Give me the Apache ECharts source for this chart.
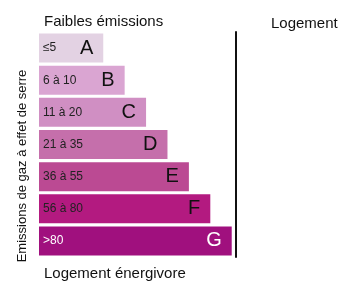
<!DOCTYPE html>
<html>
<head>
<meta charset="utf-8">
<script src="https://cdn.jsdelivr.net/npm/echarts@6/dist/echarts.min.js"></script>
<style>
  html, body { margin: 0; padding: 0; background: #fff; }
  #chart { width: 339px; height: 285px; }
</style>
</head>
<body>
<div id="chart"></div>
<script>
// classes of the label, top to bottom
var classes = ['A', 'B', 'C', 'D', 'E', 'F', 'G']
var ranges = ['≤5', '6 à 10', '11 à 20', '21 à 35', '36 à 55', '56 à 80', '>80']
// bar length in steps
var lengths = [3, 4, 5, 6, 7, 8, 9]
var colors = ['#e3d2e3', '#daa5d2', '#d08fc3', '#c56fab', '#bb4a93', '#b31a80', '#a0107e']

var font = '"Liberation Sans", Arial, sans-serif'

var chart = echarts.init(document.getElementById('chart'))
var option = {
  animation: false,
  grid: { left: 39, top: 32, width: 197, height: 225 },
  title: [
    { text: 'Faibles émissions', left: 39, top: 9, textStyle: { fontFamily: font, fontSize: 15, fontWeight: 'normal', color: '#111' } },
    { text: 'Logement', left: 266, top: 11, textStyle: { fontFamily: font, fontSize: 15, fontWeight: 'normal', color: '#111' } },
    { text: 'Logement énergivore', left: 39, top: 261, textStyle: { fontFamily: font, fontSize: 15, fontWeight: 'normal', color: '#111' } }
  ],
  graphic: [{
    type: 'text',
    x: 22,
    y: 166,
    rotation: Math.PI / 2,
    style: {
      text: 'Emissions de gaz à effet de serre',
      font: '13px ' + font,
      fill: '#111',
      align: 'center',
      verticalAlign: 'middle'
    }
  }],
  xAxis: { type: 'value', min: 0, max: 9.2, show: false },
  yAxis: [{
    type: 'category',
    data: classes,
    inverse: true,
    axisLine: { show: false },
    axisTick: { show: false },
    axisLabel: { show: false }
  }, {
    type: 'category',
    data: classes,
    position: 'right',
    axisLine: { show: true, lineStyle: { color: '#111', width: 2 } },
    axisTick: { show: false },
    axisLabel: { show: false }
  }],
  series: [{
    type: 'bar',
    barWidth: 29,
    data: lengths.map(function (v, i) {
      return {
        value: v,
        itemStyle: { color: colors[i] },
        label: { color: i === 6 ? '#fff' : '#222' }
      }
    }),
    label: {
      show: true,
      position: 'insideLeft',
      distance: 4,
      fontFamily: font,
      fontSize: 12,
      formatter: function (p) { return ranges[p.dataIndex] }
    }
  }, {
    type: 'bar',
    barWidth: 29,
    barGap: '-100%',
    silent: true,
    itemStyle: { color: 'transparent' },
    data: lengths.map(function (v, i) {
      return { value: v, label: { color: i === 6 ? '#fff' : '#111' } }
    }),
    label: {
      show: true,
      position: 'insideRight',
      distance: 10,
      fontFamily: font,
      fontSize: 20,
      formatter: function (p) { return classes[p.dataIndex] }
    }
  }]
}
chart.setOption(option)
</script>
</body>
</html>
